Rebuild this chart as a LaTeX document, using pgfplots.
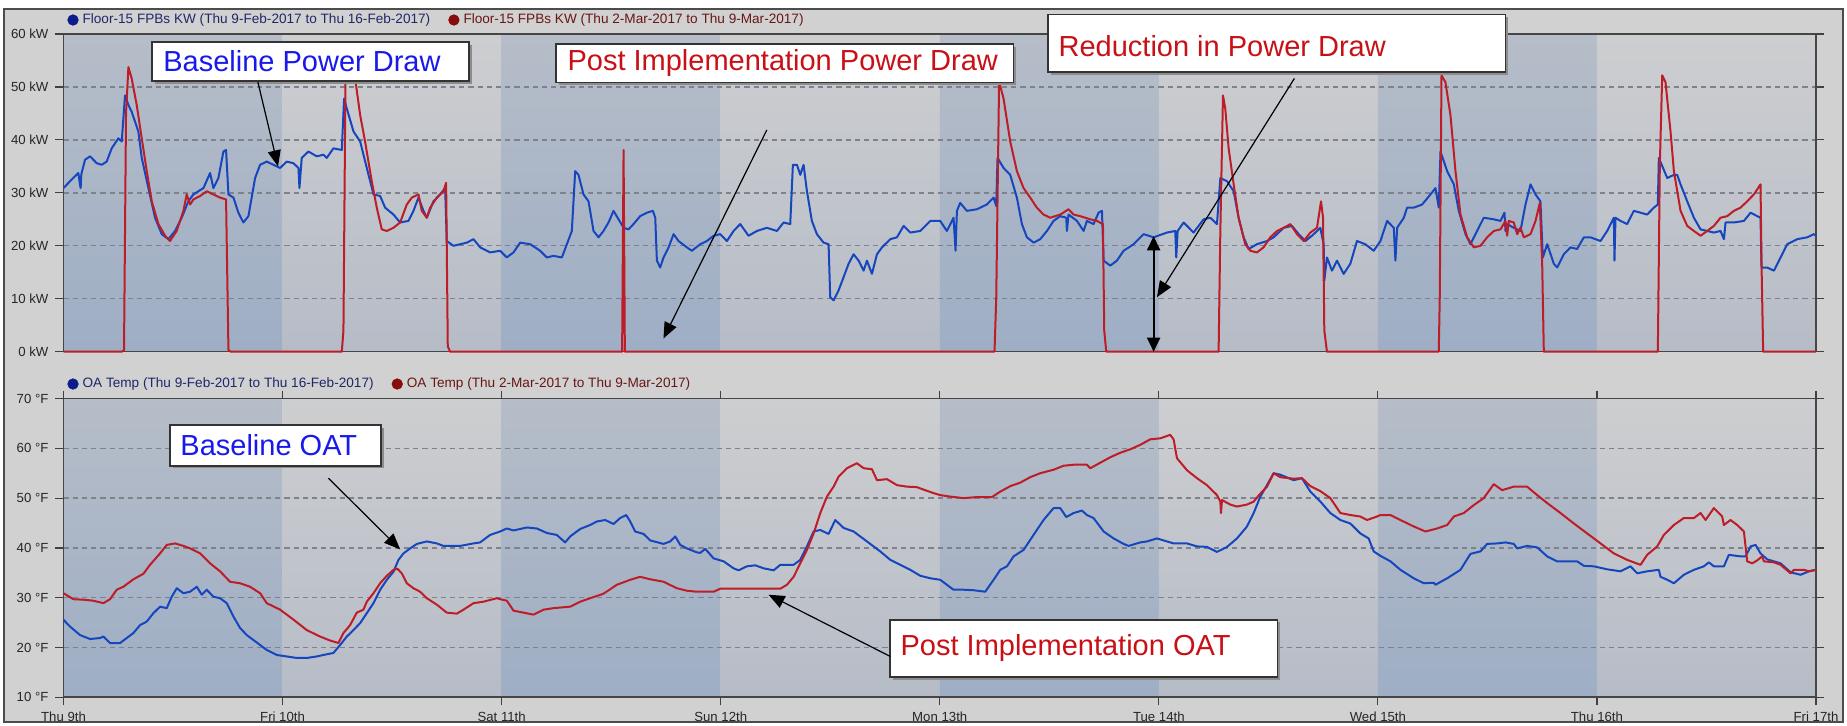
\documentclass[border=0pt]{standalone}
\usepackage{fontspec}
\setmainfont{Liberation Sans}
\usepackage{pgfplots}
\pgfplotsset{compat=1.18}
\usetikzlibrary{arrows.meta}
\definecolor{bgout}{RGB}{209,209,209}
\definecolor{darktop}{RGB}{182,189,200}
\definecolor{darkbot}{RGB}{158,174,197}
\definecolor{lighttop}{RGB}{205,206,208}
\definecolor{lightbot}{RGB}{182,188,199}
\definecolor{gridc}{RGB}{125,130,140}
\definecolor{baseblue}{RGB}{22,70,190}
\definecolor{postred}{RGB}{190,28,38}
\definecolor{annblue}{RGB}{25,25,235}
\definecolor{annred}{RGB}{200,16,22}
\definecolor{legblue}{RGB}{12,28,140}
\definecolor{legred}{RGB}{135,12,12}
\definecolor{legbluet}{RGB}{30,40,105}
\definecolor{legredt}{RGB}{105,22,22}
\pgfplotsset{
  common/.style={
    set layers, scale only axis, width=876.25pt, clip=false,
    xmin=0, xmax=192,
    axis line style={draw=gray!55!black, line width=0.8pt},
    ymajorgrids, major grid style={gridc, line width=0.7pt, dash pattern=on 2.6pt off 2pt},
    tick align=outside, major tick length=4pt, tick style={gray!50!black, line width=0.6pt},
    tick label style={font=\fontsize{6.6}{7}\selectfont, text=black!85},
    legend style={draw=none, fill=none, font=\fontsize{6.8}{8}\selectfont, legend columns=2, anchor=west, inner sep=0pt,
      /tikz/every even column/.append style={column sep=7pt}},
    legend cell align=left,
  },
}
\tikzset{
  annbox/.style={draw=black!80, fill=white, line width=0.8pt},
  annshadow/.style={fill=black!45, xshift=1.3pt, yshift=-1.3pt},
  anntext/.style={font=\fontsize{14.5}{16}\selectfont, inner sep=0pt, anchor=west},
  annarrow/.style={black, line width=0.6pt, -{Triangle[length=8pt,width=6.5pt]}},
}
\begin{document}
\begin{tikzpicture}[x=1pt,y=1pt]
% ---------------- top panel: power ----------------
\begin{axis}[common, at={(31.75pt,345.5pt)}, anchor=north west, height=158.85pt,
  ymin=0, ymax=60, ytick={0,10,...,60},
  yticklabels={0 kW,10 kW,20 kW,30 kW,40 kW,50 kW,60 kW},
  xtick=\empty,
  legend style={at={(0.002,1.044)}},
  legend image code/.code={\fill[#1] (1.5pt,0pt) circle (2.6pt);},
]
\begin{pgfonlayer}{axis background}
% page background (expressed relative to this axis)
\fill[white] (rel axis cs:-0.036234,-1.17501) rectangle (rel axis cs:1.017689,1.107019);
\fill[bgout] (rel axis cs:-0.033952,-1.165565) rectangle (rel axis cs:1.015407,1.078691);
\draw[black!70, line width=1pt] (rel axis cs:-0.033952,-1.165565) rectangle (rel axis cs:1.015407,1.078691);
\path[top color=darktop, bottom color=darkbot] (axis cs:0,0) rectangle (axis cs:24,60);
\path[top color=lighttop, bottom color=lightbot] (axis cs:24,0) rectangle (axis cs:48,60);
\path[top color=darktop, bottom color=darkbot] (axis cs:48,0) rectangle (axis cs:72,60);
\path[top color=lighttop, bottom color=lightbot] (axis cs:72,0) rectangle (axis cs:96,60);
\path[top color=darktop, bottom color=darkbot] (axis cs:96,0) rectangle (axis cs:120,60);
\path[top color=lighttop, bottom color=lightbot] (axis cs:120,0) rectangle (axis cs:144,60);
\path[top color=darktop, bottom color=darkbot] (axis cs:144,0) rectangle (axis cs:168,60);
\path[top color=lighttop, bottom color=lightbot] (axis cs:168,0) rectangle (axis cs:192,60);
\end{pgfonlayer}
\addlegendimage{color=legblue}
\addlegendentry{\textcolor{legbluet}{Floor-15 FPBs KW (Thu 9-Feb-2017 to Thu 16-Feb-2017)}}
\addlegendimage{color=legred}
\addlegendentry{\textcolor{legredt}{Floor-15 FPBs KW (Thu 2-Mar-2017 to Thu 9-Mar-2017)}}
% baseline power
\addplot[forget plot, baseblue, line width=1pt, line join=round, mark=none] coordinates {
(0.0,30.9) (0.72,32.2) (1.63,33.75) (1.81,31.5) (1.88,30.9) (1.95,33.5) (2.36,36.25) (2.91,36.9) (3.64,35.6) (4.19,35.3) (4.73,35.9) (5.28,38.4) (6.01,40.3) (6.38,39.7) (6.74,48.4) (7.11,46.6) (7.47,45.3) (8.2,41.6) (8.57,36.6) (9.3,30.9) (10.03,25.3) (10.76,22.2) (11.49,21.25) (12.22,22.8) (12.95,25.3) (13.68,28.4) (14.23,29.7) (15.33,30.9) (16.06,33.75) (16.42,30.9) (16.97,32.8) (17.52,37.8) (17.81,38.1) (18.07,29.7) (18.62,29.1) (19.16,26.25) (19.71,24.4) (20.26,25.6) (20.99,32.8) (21.54,35.3) (22.27,35.9) (23.0,35.3) (23.73,34.7) (24.46,35.9) (25.19,35.6) (25.74,34.7) (25.85,30.9) (26.1,36.6) (26.83,37.8) (27.75,36.9) (28.48,37.2) (28.84,36.6) (29.57,38.4) (30.49,38.1) (30.74,47.8) (31.04,45.9) (31.77,41.6) (32.5,39.7) (33.23,34.7) (33.96,29.7) (34.69,29.4) (35.24,27.2) (36.15,25.9) (36.88,24.4) (37.79,24.7) (38.34,26.6) (38.89,29.1) (39.44,26.6) (39.8,25.3) (40.53,28.4) (41.26,29.7) (41.81,30.9) (41.99,20.9) (42.72,20.0) (43.46,20.3) (44.19,20.6) (44.92,21.25) (45.65,19.7) (46.74,18.75) (47.84,19.06) (48.57,17.8) (49.3,18.75) (50.03,20.6) (51.13,20.3) (52.22,19.06) (52.95,17.8) (53.68,18.1) (54.6,17.8) (55.15,20.3) (55.69,22.8) (56.06,34.1) (56.42,33.4) (56.97,29.7) (57.52,28.4) (58.07,22.8) (58.62,21.6) (59.16,22.8) (59.71,24.4) (60.26,26.6) (60.81,25.0) (61.36,23.4) (61.9,23.1) (62.45,24.1) (63.18,25.6) (63.91,26.25) (64.57,26.6) (64.83,25.3) (65.01,17.2) (65.37,15.9) (65.74,17.8) (66.29,19.7) (66.84,22.2) (67.38,20.9) (68.3,19.7) (68.84,19.06) (69.76,20.3) (70.49,20.9) (71.22,21.9) (71.95,22.2) (72.68,20.9) (73.41,22.8) (74.14,24.1) (75.05,21.9) (75.97,22.8) (77.06,23.4) (78.16,22.8) (78.89,24.4) (79.62,24.1) (79.91,35.3) (80.35,35.3) (80.72,33.4) (81.08,35.3) (81.45,30.3) (81.99,24.7) (82.54,22.2) (83.27,20.6) (83.82,20.3) (84.0,10.3) (84.37,9.7) (84.92,11.6) (85.47,14.1) (86.01,16.6) (86.56,18.4) (87.11,17.2) (87.66,15.3) (88.02,17.2) (88.57,14.7) (89.12,18.4) (89.67,19.7) (90.58,21.25) (91.31,21.6) (92.04,23.75) (92.77,22.5) (93.87,22.8) (94.96,24.7) (96.05,24.7) (96.78,22.8) (97.51,25.3) (97.73,19.06) (97.88,26.6) (98.24,28.1) (98.97,26.6) (100.07,26.9) (101.16,27.8) (101.9,29.1) (102.19,27.5) (102.33,36.6) (102.99,34.7) (103.72,33.4) (104.45,29.1) (105.0,24.1) (105.55,21.6) (106.28,20.6) (107.01,21.25) (107.74,22.8) (108.47,24.7) (109.2,25.6) (109.86,25.3) (109.93,22.8) (110.11,25.9) (111.03,24.7) (111.76,22.8) (112.12,24.7) (112.85,24.1) (113.4,26.25) (113.77,26.6) (113.95,17.2) (114.68,16.25) (115.41,17.2) (116.14,19.06) (117.24,20.3) (118.33,22.2) (119.43,21.6) (120.89,22.5) (121.8,22.8) (121.91,17.8) (122.06,22.8) (122.72,24.4) (123.81,22.5) (124.91,25.0) (125.64,25.3) (126.37,24.1) (126.74,32.8) (127.47,32.2) (128.2,30.3) (128.74,25.3) (129.29,21.6) (129.84,19.4) (130.75,20.3) (131.85,20.9) (132.58,21.6) (133.68,23.4) (134.59,23.75) (135.32,22.2) (136.05,20.9) (136.78,21.9) (137.33,22.8) (137.69,23.4) (138.06,20.3) (138.13,13.4) (138.42,17.8) (138.97,15.3) (139.52,17.2) (140.25,14.7) (140.98,16.6) (141.71,20.9) (142.62,20.3) (143.54,19.06) (144.28,20.9) (145.01,24.7) (145.74,23.4) (145.92,17.2) (146.11,23.4) (146.84,25.3) (147.2,27.2) (147.93,27.2) (148.85,27.8) (149.76,29.7) (150.31,30.9) (150.67,27.2) (150.86,37.8) (151.59,34.1) (152.32,31.6) (152.86,26.6) (153.6,22.2) (154.14,20.3) (154.87,22.8) (155.6,25.3) (156.7,25.0) (157.43,24.7) (157.87,26.25) (157.98,22.8) (158.16,24.1) (158.89,23.4) (159.62,22.8) (160.17,27.8) (160.72,31.6) (161.27,29.7) (161.81,28.4) (162.07,17.8) (162.55,20.3) (163.28,16.6) (163.64,15.9) (164.37,18.4) (165.1,19.7) (165.83,19.4) (166.56,21.6) (167.29,21.6) (168.39,20.9) (169.12,22.8) (169.85,25.3) (169.92,17.2) (170.03,25.3) (170.58,24.7) (171.31,24.1) (172.04,26.6) (172.77,26.25) (173.5,25.9) (174.23,27.2) (174.67,27.8) (174.78,36.6) (175.7,32.8) (176.43,33.4) (176.79,33.4) (177.16,31.6) (177.89,28.4) (178.62,25.3) (179.35,23.1) (180.08,22.8) (180.81,22.5) (181.54,22.8) (181.91,21.25) (182.09,24.4) (183.0,24.4) (184.1,24.7) (184.83,26.25) (185.56,25.6) (185.92,25.3) (186.03,15.9) (186.65,15.9) (187.39,15.3) (188.12,17.8) (188.85,20.3) (189.94,21.25) (191.04,21.6) (191.77,22.2) (192.0,21.9)
};
% post implementation power
\addplot[forget plot, postred, line width=1pt, line join=round, mark=none] coordinates {
(0,0) (6.38,0) (6.63,0.3) (6.85,45) (7.11,53.75) (7.47,51.6) (8.02,46.6) (8.57,40.3) (9.12,34.1) (9.67,28.4) (10.4,24.1) (11.13,21.9) (11.67,20.9) (12.4,22.8) (13.14,26.6) (13.5,29.7) (13.87,27.8) (14.23,28.75) (14.96,29.4) (15.69,30.3) (16.42,29.7) (17.15,29.1) (17.81,28.75) (18.07,0.3) (18.32,0) (30.49,0) (30.67,4) (30.89,50.9) (31.4,54) (31.95,51.6) (32.5,44.7) (33.04,39.7) (33.77,32.2) (34.32,27.2) (34.87,23.1) (35.42,22.8) (36.15,23.4) (36.88,24.4) (37.61,27.8) (38.16,29.1) (38.89,29.7) (39.25,26.6) (39.8,25.3) (40.17,27.2) (40.9,29.1) (41.63,30.3) (41.92,31.9) (42.1,1) (42.36,0) (61.2,0) (61.36,38.1) (61.5,0) (102.0,0) (102.19,10.3) (102.5,51) (102.99,47.8) (103.72,39.7) (104.45,34.1) (105.18,30.9) (105.91,29.1) (106.64,27.2) (107.37,25.9) (108.1,25.3) (109.2,25.9) (110.11,26.9) (110.66,25.9) (111.39,25.6) (112.49,25) (113.22,24.7) (113.88,24.1) (114.02,4) (114.24,0) (126.55,0) (126.74,22.8) (127.03,48.4) (127.28,45.9) (127.65,38.4) (128.2,31.6) (128.74,25.3) (129.47,20.3) (130.02,19.06) (130.75,18.75) (131.48,19.7) (132.21,21.6) (132.95,22.8) (133.68,23.4) (134.41,24.1) (135.14,22.2) (135.87,20.9) (136.6,22.5) (137.33,23.4) (137.77,28.4) (137.99,25.3) (138.13,4) (138.42,0) (150.67,0) (150.78,10.3) (150.97,52.2) (151.4,50.9) (151.95,44.7) (152.5,34.1) (153.05,25.9) (153.78,21.6) (154.51,19.7) (155.24,20) (155.97,21.6) (156.7,22.8) (157.43,23.1) (157.98,24.7) (158.16,21.9) (158.34,24.7) (158.89,24.4) (159.26,22.2) (159.62,23.4) (159.99,21.6) (160.72,22.2) (161.27,24.7) (161.74,28.1) (162.0,16.6) (162.18,0) (174.67,0) (174.89,35.3) (175.15,52.2) (175.51,50.9) (176.06,41.6) (176.43,34.1) (177.16,26.6) (177.89,23.75) (178.62,22.8) (179.35,21.9) (180.08,22.8) (180.81,23.75) (181.54,25.3) (182.27,25.6) (183.0,26.6) (183.73,27.2) (184.46,28.4) (185.19,29.7) (185.92,31.6) (186.03,16.6) (186.21,0) (192,0)
};
\begin{pgfonlayer}{axis foreground}
\fill[annshadow] (axis cs:9.70,51.13) rectangle (axis cs:44.43,58.45);
\draw[annbox] (axis cs:9.70,51.13) rectangle (axis cs:44.43,58.45);
\node[anntext, text=annblue] at (axis cs:10.9,54.8) {Baseline Power Draw};
\draw[annarrow] (axis cs:21.3,50.9) -- (axis cs:23.5,35.0);
\fill[annshadow] (axis cs:53.97,50.82) rectangle (axis cs:104.06,58.13);
\draw[annbox] (axis cs:53.97,50.82) rectangle (axis cs:104.06,58.13);
\node[anntext, text=annred] at (axis cs:55.18,54.5) {Post Implementation Power Draw};
\draw[annarrow] (axis cs:77.06,41.9) -- (axis cs:65.73,2.5);
\fill[annshadow] (axis cs:107.89,52.8) rectangle (axis cs:157.97,63.7);
\draw[annbox] (axis cs:107.89,52.8) rectangle (axis cs:157.97,63.7);
\node[anntext, text=annred] at (axis cs:108.98,57.7) {Reduction in Power Draw};
\draw[annarrow] (axis cs:134.85,51.6) -- (axis cs:119.8,10.3);
\draw[black, line width=1.1pt, {Triangle[length=7pt,width=6.5pt]}-{Triangle[length=7pt,width=6.5pt]}] (axis cs:119.43,0) -- (axis cs:119.43,21.8);
\end{pgfonlayer}
\end{axis}

% ---------------- bottom panel: temperature ----------------
\begin{axis}[common, at={(31.75pt,163.25pt)}, anchor=north west, height=149.4pt,
  ymin=10, ymax=70, ytick={10,20,...,70},
  yticklabels={10 °F,20 °F,30 °F,40 °F,50 °F,60 °F,70 °F},
  xtick={0,24,...,192},
  xticklabels={Thu 9th,Fri 10th,Sat 11th,Sun 12th,Mon 13th,Tue 14th,Wed 15th,Thu 16th,Fri 17th},
  legend style={at={(0.002,1.0485)}},
  legend image code/.code={\fill[#1] (1.5pt,0pt) circle (2.6pt);},
]
\begin{pgfonlayer}{axis background}
\path[top color=darktop, bottom color=darkbot] (axis cs:0,10) rectangle (axis cs:24,70);
\path[top color=lighttop, bottom color=lightbot] (axis cs:24,10) rectangle (axis cs:48,70);
\path[top color=darktop, bottom color=darkbot] (axis cs:48,10) rectangle (axis cs:72,70);
\path[top color=lighttop, bottom color=lightbot] (axis cs:72,10) rectangle (axis cs:96,70);
\path[top color=darktop, bottom color=darkbot] (axis cs:96,10) rectangle (axis cs:120,70);
\path[top color=lighttop, bottom color=lightbot] (axis cs:120,10) rectangle (axis cs:144,70);
\path[top color=darktop, bottom color=darkbot] (axis cs:144,10) rectangle (axis cs:168,70);
\path[top color=lighttop, bottom color=lightbot] (axis cs:168,10) rectangle (axis cs:192,70);
\end{pgfonlayer}
\addlegendimage{color=legblue}
\addlegendentry{\textcolor{legbluet}{OA Temp (Thu 9-Feb-2017 to Thu 16-Feb-2017)}}
\addlegendimage{color=legred}
\addlegendentry{\textcolor{legredt}{OA Temp (Thu 2-Mar-2017 to Thu 9-Mar-2017)}}
\addplot[forget plot, baseblue, line width=1pt, line join=round, mark=none] coordinates {
(0.0,25.55) (0.72,24.2) (1.81,22.5) (2.91,21.7) (4.0,21.9) (4.37,22.2) (5.1,20.9) (6.2,20.9) (6.93,21.9) (7.66,22.9) (8.39,24.5) (9.12,25.2) (9.85,26.9) (10.58,28.2) (11.31,27.9) (11.86,30.2) (12.41,31.9) (13.14,30.9) (13.87,31.2) (14.6,32.2) (15.15,30.6) (15.69,31.6) (16.42,30.2) (17.15,29.9) (17.89,28.9) (18.62,26.2) (19.35,23.9) (20.08,22.5) (20.81,21.5) (21.54,20.5) (22.27,19.5) (23.36,18.5) (24.46,18.2) (25.56,17.9) (26.65,17.9) (27.75,18.2) (28.48,18.5) (29.57,18.9) (30.3,20.5) (31.04,22.2) (31.77,23.5) (32.5,24.9) (33.23,26.9) (33.96,28.9) (34.69,31.6) (35.42,33.6) (36.15,35.2) (36.7,37.6) (37.25,38.9) (37.98,39.9) (38.71,40.8) (39.8,41.3) (40.9,40.9) (41.63,40.4) (43.46,40.4) (44.92,40.9) (45.65,41.1) (46.74,42.6) (47.84,43.3) (48.57,43.9) (49.3,43.5) (50.76,44.1) (51.86,43.9) (52.95,43.0) (54.05,42.6) (54.96,41.1) (55.51,42.3) (56.61,43.8) (57.7,44.6) (58.43,45.3) (59.35,45.6) (60.26,44.8) (60.99,46.0) (61.65,46.6) (62.09,45.3) (62.63,43.3) (63.55,42.8) (64.28,41.5) (65.74,40.8) (66.47,41.3) (67.02,42.3) (67.57,40.6) (68.3,39.9) (69.39,39.1) (69.76,39.0) (70.31,39.8) (71.22,37.9) (72.32,37.3) (73.41,35.9) (73.96,35.5) (74.87,36.3) (75.78,36.5) (76.7,35.9) (77.8,35.5) (78.53,36.6) (79.99,36.6) (80.72,37.6) (81.45,40.3) (82.18,43.3) (82.91,43.6) (83.82,42.8) (84.55,45.6) (85.47,44.0) (86.56,43.3) (87.29,42.3) (88.39,40.8) (89.48,39.3) (90.58,37.6) (91.68,36.6) (92.77,35.6) (93.87,34.4) (94.96,33.9) (96.05,33.6) (96.78,32.6) (97.51,31.6) (98.61,31.6) (99.7,31.5) (100.98,31.2) (101.9,33.6) (102.63,35.6) (103.36,36.3) (104.09,38.3) (105.18,39.6) (105.91,41.6) (106.64,43.6) (107.37,45.6) (108.47,48.0) (109.2,48.0) (109.86,46.2) (110.66,47.0) (111.58,47.5) (112.12,46.6) (112.85,46.0) (113.95,43.3) (115.05,41.9) (116.14,40.8) (116.69,40.4) (117.97,41.1) (118.7,41.3) (119.79,41.9) (120.89,41.3) (121.62,40.9) (123.08,40.9) (124.18,40.3) (125.27,40.2) (126.37,39.2) (127.47,40.2) (128.56,41.9) (129.66,44.3) (130.39,47.0) (131.12,50.3) (131.85,52.6) (132.58,55.0) (133.31,54.7) (134.77,53.6) (135.68,54.0) (136.6,51.3) (137.7,49.3) (138.79,47.0) (139.89,45.6) (140.98,44.9) (142.08,42.9) (142.99,41.9) (143.54,39.3) (144.28,38.4) (145.38,37.3) (146.47,35.6) (147.93,33.9) (149.03,32.9) (150.12,33.0) (150.31,32.6) (151.59,33.9) (153.05,35.6) (154.14,38.8) (155.24,39.3) (155.97,40.8) (157.07,40.9) (157.98,41.1) (158.89,40.8) (159.26,39.9) (160.35,40.4) (161.45,40.1) (162.55,38.3) (163.64,37.3) (165.83,37.3) (166.56,36.4) (167.66,36.3) (169.12,35.7) (170.58,35.3) (171.68,36.3) (172.41,34.9) (173.5,35.3) (174.78,35.6) (174.96,34.2) (175.7,33.6) (176.43,32.9) (177.52,34.6) (178.62,35.6) (179.71,36.3) (180.26,37.1) (180.81,36.3) (181.91,36.3) (182.45,38.6) (183.73,38.3) (184.28,38.3) (184.83,40.3) (185.38,40.6) (185.92,38.9) (186.65,37.7) (188.12,36.9) (189.21,35.1) (190.31,34.6) (191.22,35.3) (191.99,35.6)
};
\addplot[forget plot, postred, line width=1pt, line join=round, mark=none] coordinates {
(0.0,30.9) (1.08,29.7) (2.18,29.6) (3.27,29.4) (4.37,28.9) (5.1,29.7) (5.83,31.6) (6.56,32.2) (7.66,33.7) (8.75,34.8) (9.48,36.6) (10.58,38.9) (11.31,40.6) (12.22,40.9) (13.14,40.4) (13.87,39.9) (14.96,38.9) (16.06,36.9) (17.15,35.3) (18.25,33.2) (19.35,32.9) (20.44,32.2) (21.54,30.9) (22.27,28.9) (23.73,27.6) (25.19,25.6) (26.65,23.5) (28.11,22.2) (29.21,21.4) (30.12,20.9) (30.67,22.9) (31.4,24.5) (32.13,27.0) (32.86,27.6) (33.23,29.2) (33.96,30.9) (34.69,32.9) (35.42,34.4) (36.15,35.6) (36.59,35.8) (37.06,34.9) (37.61,32.9) (38.34,31.9) (39.07,31.2) (39.8,29.9) (40.9,28.6) (41.99,27.0) (43.09,26.8) (43.82,27.6) (44.92,28.9) (46.01,29.2) (47.47,29.9) (47.84,29.7) (48.57,29.4) (49.3,27.4) (50.4,27.0) (51.49,26.6) (52.59,27.6) (53.68,27.9) (55.51,28.2) (56.61,29.2) (57.7,29.9) (59.16,30.8) (60.63,32.6) (62.09,33.6) (63.18,34.2) (64.28,33.7) (65.74,33.2) (67.2,31.9) (68.3,31.4) (69.39,31.2) (71.22,31.2) (71.95,31.8) (78.53,31.8) (79.26,32.6) (79.99,34.2) (80.72,36.9) (81.45,39.6) (82.18,42.9) (82.91,47.0) (83.64,50.3) (84.37,52.3) (84.92,54.3) (85.83,56.0) (86.93,57.0) (87.66,56.0) (88.57,55.8) (89.12,53.6) (90.22,53.8) (91.31,52.6) (92.41,52.3) (93.5,52.2) (94.23,51.7) (95.33,51.0) (96.05,50.6) (97.15,50.3) (98.61,50.0) (100.07,50.2) (101.71,50.2) (102.63,51.3) (103.72,52.4) (104.82,53.1) (105.91,54.2) (107.01,55.0) (108.47,55.7) (109.57,56.5) (110.66,56.7) (112.12,56.7) (112.49,56.0) (113.58,57.1) (114.68,58.2) (115.77,59.1) (116.87,59.8) (117.97,60.7) (119.06,61.8) (120.16,62.0) (121.25,62.7) (121.62,61.8) (121.99,58.0) (123.08,55.6) (124.18,54.0) (125.27,52.6) (126.37,50.6) (126.74,49.3) (126.81,47.0) (126.92,49.6) (127.83,48.7) (128.56,48.3) (129.66,48.7) (130.39,49.3) (131.12,50.9) (131.85,52.3) (132.58,55.0) (133.31,54.2) (134.77,53.9) (135.68,54.0) (136.6,52.4) (137.7,51.4) (138.79,50.0) (139.89,47.0) (140.98,46.6) (142.08,46.3) (142.81,45.6) (143.9,46.3) (144.28,46.6) (145.38,46.6) (146.47,45.6) (147.93,44.3) (149.21,43.3) (150.49,43.9) (151.59,44.6) (152.32,46.3) (153.41,47.0) (154.51,48.6) (155.6,50.0) (156.7,52.8) (157.61,51.6) (158.89,52.3) (160.35,52.3) (161.45,50.6) (162.55,49.0) (164.01,47.0) (165.47,44.9) (166.93,42.9) (168.39,40.9) (169.85,38.9) (171.31,37.6) (172.77,36.6) (173.5,38.6) (174.6,40.3) (175.33,42.6) (176.43,44.6) (177.52,46.0) (178.62,46.0) (179.35,47.0) (179.9,45.6) (180.81,48.0) (181.72,46.3) (181.91,44.6) (182.63,45.6) (183.37,44.6) (184.1,43.3) (184.46,37.3) (185.01,36.9) (185.56,37.5) (186.1,38.3) (186.29,37.3) (187.39,37.1) (188.12,36.6) (189.21,34.9) (189.58,35.6) (190.67,35.6) (191.22,35.3) (191.99,35.6)
};
\begin{pgfonlayer}{axis foreground}
\fill[annshadow] (axis cs:11.67,56.5) rectangle (axis cs:34.8,64.68);
\draw[annbox] (axis cs:11.67,56.5) rectangle (axis cs:34.8,64.68);
\node[anntext, text=annblue] at (axis cs:12.77,60.7) {Baseline OAT};
\draw[annarrow] (axis cs:29.02,54.0) -- (axis cs:36.88,39.7);
\fill[annshadow] (axis cs:90.58,14.05) rectangle (axis cs:132.98,25.55);
\draw[annbox] (axis cs:90.58,14.05) rectangle (axis cs:132.98,25.55);
\node[anntext, text=annred] at (axis cs:91.67,19.8) {Post Implementation OAT};
\draw[annarrow] (axis cs:90.58,18.2) -- (axis cs:77.24,30.6);
\end{pgfonlayer}
\end{axis}
\pgfresetboundingbox
\path[use as bounding box] (0,0) rectangle (923.5,362.5);
\end{tikzpicture}
\end{document}
